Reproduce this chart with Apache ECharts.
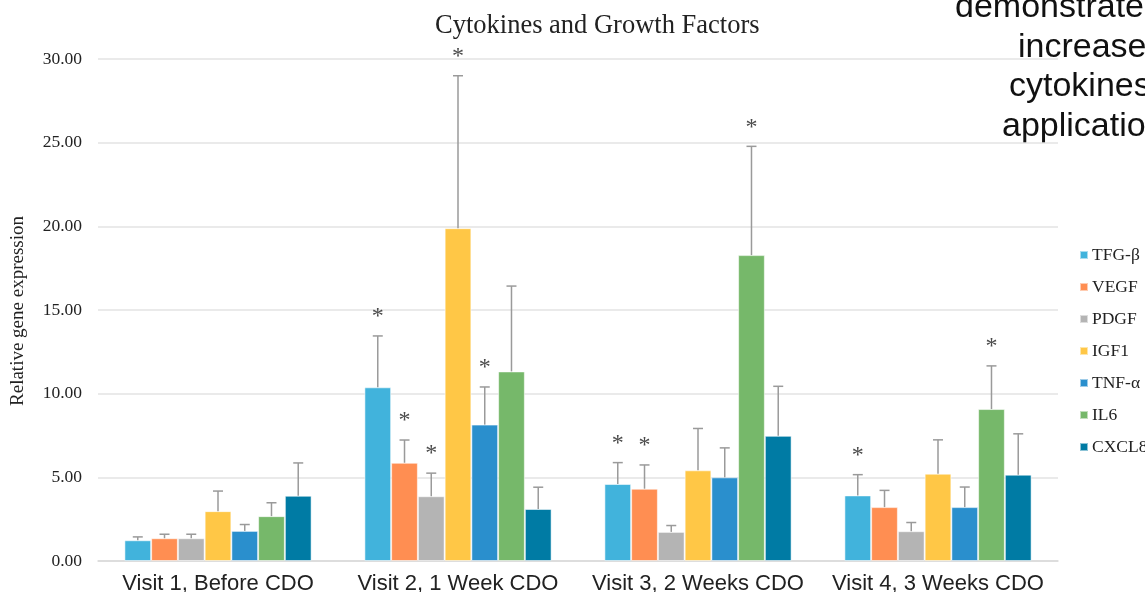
<!DOCTYPE html>
<html>
<head>
<meta charset="utf-8">
<script src="https://cdn.jsdelivr.net/npm/echarts@6/dist/echarts.min.js"></script>
<style>
html,body{margin:0;padding:0;background:#fff;}
#c{width:1145px;height:592px;}
</style>
</head>
<body>
<div id="c"></div>
<script>
// ---- data ----
const categories = ['Visit 1, Before CDO', 'Visit 2, 1 Week CDO', 'Visit 3, 2 Weeks CDO', 'Visit 4, 3 Weeks CDO'];
const seriesNames = ['TFG-β', 'VEGF', 'PDGF', 'IGF1', 'TNF-α', 'IL6', 'CXCL8'];
const tfgB  = [1.24, 10.38, 4.60, 3.92];
const vegf  = [1.36, 5.87, 4.32, 3.22];
const pdgf  = [1.36, 3.87, 1.74, 1.78];
const igf1  = [2.98, 19.89, 5.42, 5.22];
const tnfA  = [1.80, 8.15, 5.00, 3.22];
const il6   = [2.68, 11.33, 18.28, 9.08];
const cxcl8 = [3.90, 3.11, 7.48, 5.16];
// upper error (SD)
const tfgBErr  = [0.20, 3.07, 1.28, 1.24];
const vegfErr  = [0.24, 1.36, 1.42, 1.00];
const pdgfErr  = [0.24, 1.38, 0.38, 0.52];
const igf1Err  = [1.20, 9.11, 2.50, 2.02];
const tnfAErr  = [0.38, 2.25, 1.76, 1.20];
const il6Err   = [0.80, 5.10, 6.50, 2.58];
const cxcl8Err = [1.96, 1.30, 2.96, 2.44];
// significance markers (*)
const tfgBSig  = [0, 1, 1, 1];
const vegfSig  = [0, 1, 1, 0];
const pdgfSig  = [0, 1, 0, 0];
const igf1Sig  = [0, 1, 0, 0];
const tnfASig  = [0, 1, 0, 0];
const il6Sig   = [0, 0, 1, 1];
const cxcl8Sig = [0, 0, 0, 0];
const yTicks = [0, 5, 10, 15, 20, 25, 30];
const sideText = ['demonstrated', 'increased', 'cytokines', 'application'];

// ---- styling ----
const colors = ['#41B3DC', '#FF8E52', '#B4B4B4', '#FFC746', '#2A8FCD', '#76B86A', '#007BA4'];
const values = [tfgB, vegf, pdgf, igf1, tnfA, il6, cxcl8];
const errs = [tfgBErr, vegfErr, pdgfErr, igf1Err, tnfAErr, il6Err, cxcl8Err];
const sigs = [tfgBSig, vegfSig, pdgfSig, igf1Sig, tnfASig, il6Sig, cxcl8Sig];
const GAP = 0.22;
const serif = '"Liberation Serif", "DejaVu Serif", serif';
const sans = '"Liberation Sans", Arial, sans-serif';

const barSeries = seriesNames.map((n, i) => ({
  name: n,
  type: 'bar',
  data: values[i],
  barGap: '0%',
  barCategoryGap: (GAP * 100) + '%',
  itemStyle: { color: colors[i], borderColor: 'rgba(255,255,255,0.55)', borderWidth: 1 },
  emphasis: { disabled: true },
  z: 2
}));

const errData = [];
seriesNames.forEach((n, si) => {
  categories.forEach((c, ci) => {
    errData.push([ci, si, values[si][ci], errs[si][ci], sigs[si][ci]]);
  });
});

const errSeries = {
  type: 'custom',
  name: 'err',
  data: errData,
  z: 5,
  silent: true,
  encode: { x: 0, y: 2 },
  renderItem: function (params, api) {
    const ci = api.value(0), si = api.value(1), v = api.value(2), e = api.value(3), sig = api.value(4);
    const band = api.size([1, 0])[0];
    const groupW = band * (1 - GAP);
    const bw = groupW / seriesNames.length;
    const cx = api.coord([ci, 0])[0] - groupW / 2 + bw * (si + 0.5);
    const yTop = api.coord([ci, v])[1];
    const yErr = api.coord([ci, v + e])[1];
    const st = { stroke: '#9a9a9a', lineWidth: 1.5 };
    const children = [
      { type: 'line', shape: { x1: cx, y1: yTop, x2: cx, y2: yErr }, style: st },
      { type: 'line', shape: { x1: cx - 5, y1: yErr, x2: cx + 5, y2: yErr }, style: st }
    ];
    if (sig) {
      children.push({
        type: 'text',
        style: { text: '*', x: cx, y: yErr - 19, align: 'center', verticalAlign: 'middle',
                 font: '24px ' + serif, fill: '#4a4a4a' }
      });
    }
    return { type: 'group', children: children };
  }
};

const chart = echarts.init(document.getElementById('c'));
chart.setOption({
  animation: false,
  backgroundColor: '#fff',
  color: colors,
  grid: { left: 98, right: 87, top: 59, bottom: 31, containLabel: false, outerBoundsMode: 'none' },
  legend: {
    data: seriesNames,
    orient: 'vertical',
    left: 1074,
    top: 241,
    itemWidth: 8,
    itemHeight: 8,
    itemGap: 14,
    icon: 'rect',
    textStyle: { fontFamily: serif, fontSize: 17.5, color: '#222', padding: [0, 0, 0, -1] }
  },
  graphic: [
    { type: 'text', left: 435, top: 13,
      style: { text: 'Cytokines and Growth Factors', font: '26.5px ' + serif, fill: '#222' } },
    { type: 'text', x: 18, y: 311, rotation: Math.PI / 2,
      style: { text: 'Relative gene expression', font: '19px ' + serif, fill: '#222', align: 'center', verticalAlign: 'middle' } },
    { type: 'text', x: 955, y: 8, style: { text: sideText[0], font: '34px ' + sans, fill: '#111', verticalAlign: 'middle' } },
    { type: 'text', x: 1018, y: 48, style: { text: sideText[1], font: '34px ' + sans, fill: '#111', verticalAlign: 'middle' } },
    { type: 'text', x: 1009, y: 87, style: { text: sideText[2], font: '34px ' + sans, fill: '#111', verticalAlign: 'middle' } },
    { type: 'text', x: 1002, y: 127, style: { text: sideText[3], font: '34px ' + sans, fill: '#111', verticalAlign: 'middle' } }
  ],
  xAxis: {
    type: 'category',
    data: categories,
    axisTick: { show: false },
    axisLine: { lineStyle: { color: '#d9d9d9', width: 1.5 } },
    axisLabel: { fontFamily: sans, fontSize: 22, color: '#222', margin: 12, interval: 0 }
  },
  yAxis: {
    type: 'value',
    min: yTicks[0],
    max: yTicks[yTicks.length - 1],
    interval: yTicks[1] - yTicks[0],
    axisLine: { show: false },
    axisTick: { show: false },
    splitLine: { lineStyle: { color: '#e3e3e3', width: 1.5 } },
    axisLabel: { fontFamily: serif, fontSize: 17.5, color: '#222', margin: 16,
                 formatter: v => v.toFixed(2) }
  },
  series: barSeries.concat([errSeries])
});
</script>
</body>
</html>
